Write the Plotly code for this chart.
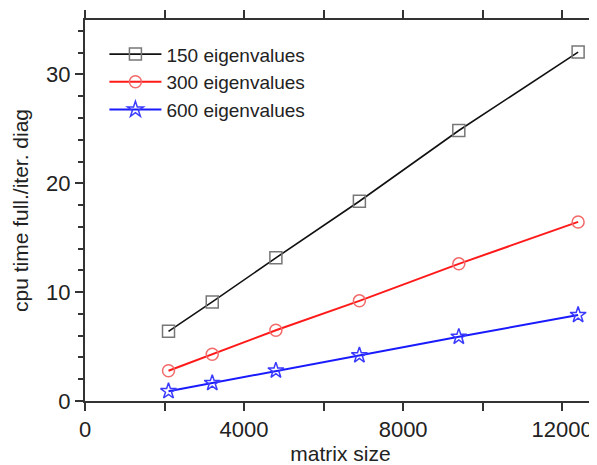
import plotly.graph_objects as go

matrix_size = [2100, 3200, 4800, 6900, 9400, 12400]
eig150 = [6.4, 9.1, 13.15, 18.35, 24.85, 32.05]
eig300 = [2.78, 4.3, 6.5, 9.2, 12.6, 16.45]
eig600 = [0.9, 1.65, 2.8, 4.2, 5.9, 7.9]
names = ["150 eigenvalues", "300 eigenvalues", "600 eigenvalues"]
x_ticks = [0, 4000, 8000, 12000]
y_ticks = [0, 10, 20, 30]

fig = go.Figure()
styles = [
    (eig150, "#111111", "square-open", "#777777", 1.6),
    (eig300, "#ff1a1a", "circle-open", "#f26a6a", 2),
    (eig600, "#1a1aff", "star-open", "#3b3bff", 2),
]
for (vals, lc, sym, mc, lw), nm in zip(styles, names):
    fig.add_trace(go.Scatter(
        x=matrix_size, y=vals, name=nm, mode="lines+markers",
        line=dict(color=lc, width=lw),
        marker=dict(symbol=sym, size=12, color=mc, line=dict(width=1.5, color=mc)),
    ))

axis_common = dict(
    showline=True, linecolor="#333333", linewidth=2,
    ticks="outside", ticklen=8, tickwidth=2, tickcolor="#333333",
    showgrid=False, zeroline=False, automargin=False,
    tickfont=dict(family="Liberation Sans, Arial", size=22, color="#222222"),
)
fig.update_layout(
    width=589, height=457,
    margin=dict(l=77, r=1, t=12, b=64),
    paper_bgcolor="white", plot_bgcolor="white",
    font=dict(family="Liberation Sans, Arial", color="#222222"),
    xaxis=dict(
        **axis_common, range=[0, 12850], tickvals=x_ticks,
        ticktext=[str(v) for v in x_ticks],
        mirror="allticks",
        minor=dict(ticks="outside", ticklen=5, tickwidth=2, tickcolor="#333333", dtick=2000, tick0=0),
        title=dict(text="matrix size", font=dict(size=21), standoff=2),
    ),
    yaxis=dict(
        **axis_common, range=[0, 35], tickvals=y_ticks,
        ticktext=[str(v) for v in y_ticks],
        mirror=False,
        minor=dict(ticks="outside", ticklen=5, tickwidth=2, tickcolor="#333333", dtick=2, tick0=0),
        title=dict(text="cpu time full./iter. diag", font=dict(size=21), standoff=12),
    ),
    yaxis2=dict(
        overlaying="y", side="right", range=[0, 35], tickvals=y_ticks,
        ticks="inside", ticklen=6, tickwidth=2, tickcolor="#555555",
        showticklabels=False, showgrid=False, zeroline=False,
        showline=True, linecolor="#cccccc", linewidth=1,
        automargin=False,
    ),
    legend=dict(
        x=0.038, y=0.96, xanchor="left", yanchor="top",
        bgcolor="rgba(0,0,0,0)", font=dict(size=19),
        itemwidth=52, tracegroupgap=0,
    ),
)
fig.add_trace(go.Scatter(x=[None], y=[None], yaxis="y2", showlegend=False, hoverinfo="skip"))

fig.write_html("out.html")
